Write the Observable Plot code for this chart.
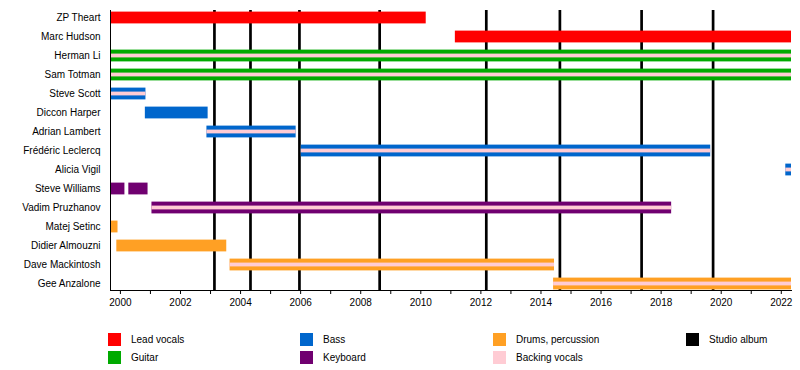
<!DOCTYPE html>
<html>
<head>
<meta charset="utf-8">
<script src="https://cdn.jsdelivr.net/npm/d3@7"></script>
<script src="https://cdn.jsdelivr.net/npm/@observablehq/plot@0.6"></script>
<style>
  body { margin: 0; background: #fff; font-family: "Liberation Sans", Arial, sans-serif; }
  #wrap { position: relative; width: 800px; height: 370px; }
  #legend { position: absolute; left: 0; top: 0; width: 800px; height: 370px; pointer-events: none; }
  .item { position: absolute; display: flex; align-items: center; font-size: 10px; color: #000; }
  .sw { width: 13px; height: 13px; margin-right: 10px; }
</style>
</head>
<body>
<div id="wrap"><div id="chart"></div><div id="legend"></div></div>
<script>
// Members (rows, top to bottom)
const members = [
  "ZP Theart", "Marc Hudson", "Herman Li", "Sam Totman", "Steve Scott",
  "Diccon Harper", "Adrian Lambert", "Frédéric Leclercq", "Alicia Vigil",
  "Steve Williams", "Vadim Pruzhanov", "Matej Setinc", "Didier Almouzni",
  "Dave Mackintosh", "Gee Anzalone"
];

// Timeline extent
const timeStart = 1999.67;
const timeEnd = 2022.34;

// Periods (parallel arrays)
const periodMember = [
  "ZP Theart", "Marc Hudson", "Herman Li", "Sam Totman", "Steve Scott",
  "Diccon Harper", "Adrian Lambert", "Frédéric Leclercq", "Alicia Vigil",
  "Steve Williams", "Steve Williams", "Vadim Pruzhanov", "Matej Setinc",
  "Didier Almouzni", "Dave Mackintosh", "Gee Anzalone"
];
const periodStart = [
  1999.67, 2011.15, 1999.67, 1999.67, 1999.67,
  2000.83, 2002.88, 2006.02, 2022.15,
  1999.67, 2000.28, 2001.05, 1999.70,
  1999.88, 2003.65, 2014.42
];
const periodEnd = [
  2010.18, 2022.34, 2022.34, 2022.34, 2000.85,
  2002.92, 2005.85, 2019.65, 2022.34,
  2000.15, 2000.92, 2018.35, 1999.92,
  2003.54, 2014.45, 2022.34
];
const periodRole = [
  "Lead vocals", "Lead vocals", "Guitar", "Guitar", "Bass",
  "Bass", "Bass", "Bass", "Bass",
  "Keyboard", "Keyboard", "Keyboard", "Drums, percussion",
  "Drums, percussion", "Drums, percussion", "Drums, percussion"
];
const periodBacking = [
  false, false, true, true, true,
  false, true, true, true,
  false, false, true, false,
  false, true, true
];

// Studio album release dates
const albumDates = [2003.13, 2004.33, 2005.96, 2008.63, 2012.18, 2014.63, 2017.35, 2019.73];

// Axis ticks
const tickYears = d3.range(2000, 2023);

// Legend
const roleNames = ["Lead vocals", "Guitar", "Bass", "Keyboard", "Drums, percussion", "Backing vocals", "Studio album"];
const roleColors = ["#ff0000", "#00aa00", "#0066cc", "#700070", "#ffa024", "#ffccd4", "#000000"];

const colorOf = Object.fromEntries(roleNames.map((r, i) => [r, roleColors[i]]));

const periods = periodMember.map((m, i) => ({
  member: m, start: periodStart[i], end: periodEnd[i], role: periodRole[i], backing: periodBacking[i]
}));

const rowStep = 19.2;
const yTop = 6.4;

const chart = Plot.plot({
  width: 800,
  height: 320,
  marginLeft: 110,
  marginRight: 9,
  marginTop: 10,
  marginBottom: 30,
  style: { fontFamily: "'Liberation Sans', Arial, sans-serif", fontSize: "10px", color: "#000", background: "#fff" },
  x: {
    domain: [timeStart, timeEnd],
    ticks: tickYears,
    tickFormat: d => (d % 2 === 0 ? String(d) : ""),
    tickSize: 4,
    tickPadding: 4,
    line: true,
    label: null
  },
  y: {
    domain: members,
    range: [yTop, yTop + rowStep * members.length],
    padding: 0,
    tickSize: 0,
    tickPadding: 10,
    label: null
  },
  marks: [
    Plot.ruleX(albumDates, { x: d => d, stroke: colorOf["Studio album"], strokeWidth: 2.7 }),
    Plot.barX(periods, {
      x1: "start", x2: "end", y: "member",
      fill: d => colorOf[d.role],
      insetTop: 3.6, insetBottom: 3.6
    }),
    Plot.barX(periods.filter(d => d.backing), {
      x1: "start", x2: "end", y: "member",
      fill: colorOf["Backing vocals"],
      insetTop: 7.6, insetBottom: 7.6
    }),
    Plot.ruleX([timeStart], { stroke: "#000", strokeWidth: 1 })
  ]
});
document.getElementById("chart").appendChild(chart);

// Legend (HTML, below the chart)
const legendLayout = [
  ["Lead vocals", 0, 0], ["Guitar", 0, 1],
  ["Bass", 1, 0], ["Keyboard", 1, 1],
  ["Drums, percussion", 2, 0], ["Backing vocals", 2, 1],
  ["Studio album", 3, 0]
];
const legendX = [108, 300, 493, 686];
const legendY = [333, 351];
const legend = document.getElementById("legend");
for (const [name, col, row] of legendLayout) {
  const it = document.createElement("div");
  it.className = "item";
  it.style.left = legendX[col] + "px";
  it.style.top = legendY[row] + "px";
  const sw = document.createElement("div");
  sw.className = "sw";
  sw.style.background = colorOf[name];
  const tx = document.createElement("span");
  tx.textContent = name;
  it.appendChild(sw);
  it.appendChild(tx);
  legend.appendChild(it);
}
</script>
</body>
</html>
